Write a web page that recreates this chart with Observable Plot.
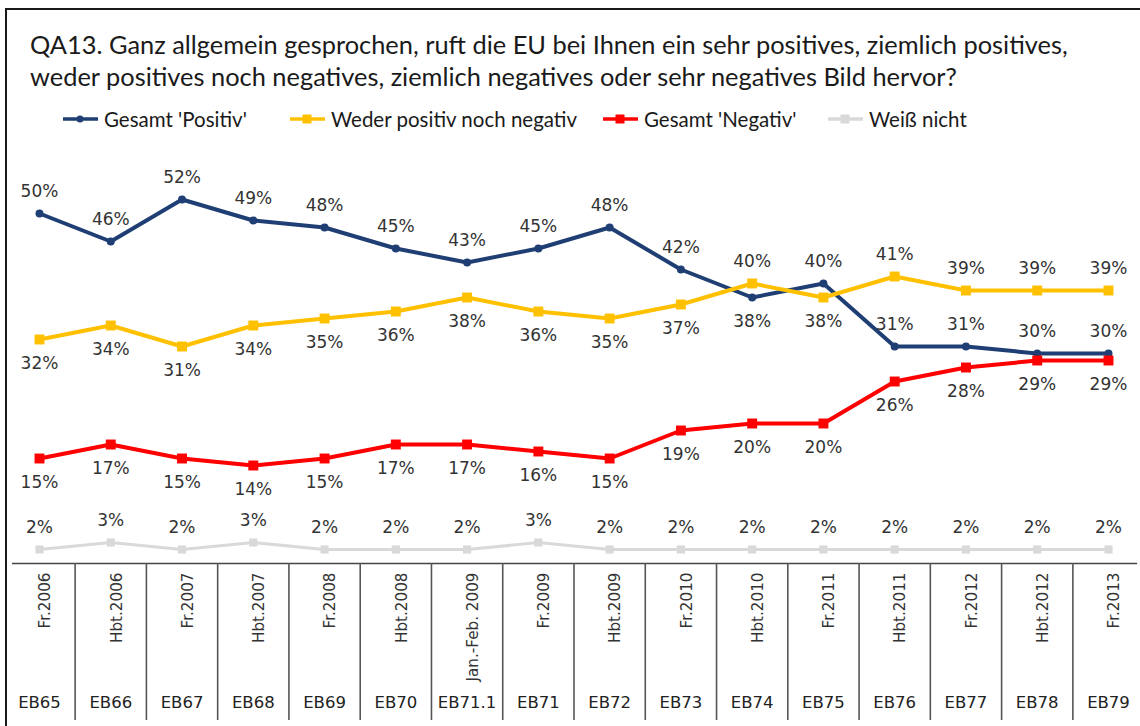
<!DOCTYPE html>
<html>
<head>
<meta charset="utf-8">
<script src="https://cdn.jsdelivr.net/npm/d3@7"></script>
<script src="https://cdn.jsdelivr.net/npm/@observablehq/plot@0.6"></script>
<style>
  html, body { margin: 0; padding: 0; background: #fff; }
  #root { position: relative; width: 1140px; height: 726px; overflow: hidden; background: #fff; }
  #frame { position: absolute; left: 5px; top: 8px; width: 1200px; height: 800px; border-left: 2px solid #1a1a1a; border-top: 2px solid #1a1a1a; }
  #title { position: absolute; left: 30px; top: 28px; font-family: Lato, "Open Sans", sans-serif; font-size: 25.4px; line-height: 32px; color: #1a1a1a; white-space: nowrap; }
  #legend { position: absolute; left: 0; top: 106px; height: 26px; font-family: Lato, sans-serif; font-size: 20.5px; color: #1a1a1a; }
  .item { position: absolute; top: 0; display: flex; align-items: center; height: 26px; white-space: nowrap; }
  .item svg { margin-right: 6px; }
  #main { position: absolute; left: 0; top: 130px; }
  #table { position: absolute; left: 0; top: 563px; }
</style>
</head>
<body>
<div id="root">
  <div id="frame"></div>
  <div id="title">QA13. Ganz allgemein gesprochen, ruft die EU bei Ihnen ein sehr positives, ziemlich positives,<br>weder positives noch negatives, ziemlich negatives oder sehr negatives Bild hervor?</div>
  <div id="legend"></div>
  <div id="main"></div>
  <div id="table"></div>
</div>
<script>
// ---- data ----
const codes = ["EB65","EB66","EB67","EB68","EB69","EB70","EB71.1","EB71","EB72","EB73","EB74","EB75","EB76","EB77","EB78","EB79"];
const periods = ["Fr.2006","Hbt.2006","Fr.2007","Hbt.2007","Fr.2008","Hbt.2008","Jan.-Feb. 2009","Fr.2009","Hbt.2009","Fr.2010","Hbt.2010","Fr.2011","Hbt.2011","Fr.2012","Hbt.2012","Fr.2013"];
const seriesNames = ["Gesamt 'Positiv'", "Weder positiv noch negativ", "Gesamt 'Negativ'", "Weiß nicht"];
const positiv = [50,46,52,49,48,45,43,45,48,42,38,40,31,31,30,30];
const weder   = [32,34,31,34,35,36,38,36,35,37,40,38,41,39,39,39];
const negativ = [15,17,15,14,15,17,17,16,15,19,20,20,26,28,29,29];
const weissNicht = [2,3,2,3,2,2,2,3,2,2,2,2,2,2,2,2];
const colors = ["#1f3f74", "#ffc000", "#ff0000", "#d9d9d9"];

// ---- build rows ----
const allValues = [positiv, weder, negativ, weissNicht];
const rows = [];
allValues.forEach((vals, s) => vals.forEach((v, i) => {
  let above;
  if (s === 0) above = !(weder[i] > v && weder[i] - v < 5);
  else if (s === 1) above = v > positiv[i];
  else if (s === 2) above = false;
  else above = true;
  rows.push({i, v, s, name: seriesNames[s], above});
}));

const sym = ["circle", "square", "square", "square"];
const rad = [4, 5.6, 5.6, 4.6];
const sw = [4, 4, 4, 3.2];

// ---- legend ----
const legend = document.getElementById("legend");
const legendLeft = [63, 290, 603, 828];
seriesNames.forEach((n, s) => {
  const it = document.createElement("div");
  it.className = "item";
  it.style.left = legendLeft[s] + "px";
  const marker = s === 0
    ? `<circle cx="17" cy="13" r="3.5" fill="${colors[s]}"/>`
    : `<rect x="12.5" y="8.5" width="9" height="9" fill="${colors[s]}"/>`;
  it.innerHTML = `<svg width="35" height="26"><line x1="0" x2="35" y1="13" y2="13" stroke="${colors[s]}" stroke-width="3.5"/>${marker}</svg><span>${n}</span>`;
  legend.appendChild(it);
});

// ---- main chart ----
const labelFont = "DejaVu Sans, Verdana, sans-serif";
const marks = [
  Plot.ruleY([0], {x1: -0.5, x2: 15.5, insetLeft: 8.6, insetRight: 6.5, stroke: "#444", strokeWidth: 1.6})
];
[0,1,2,3].forEach(s => {
  const d = rows.filter(r => r.s === s);
  marks.push(Plot.line(d, {x: "i", y: "v", stroke: colors[s], strokeWidth: sw[s]}));
  marks.push(Plot.dot(d, {x: "i", y: "v", fill: colors[s], symbol: sym[s], r: rad[s]}));
});
marks.push(Plot.text(rows.filter(r => r.above), {x: "i", y: "v", text: r => r.v + "%", dy: -22, fill: "#333", fontSize: 17, fontFamily: labelFont}));
marks.push(Plot.text(rows.filter(r => !r.above), {x: "i", y: "v", text: r => r.v + "%", dy: 24, fill: "#333", fontSize: 17, fontFamily: labelFont}));

const main = Plot.plot({
  width: 1140, height: 436,
  marginLeft: 39, marginRight: 32, marginTop: 13, marginBottom: 3,
  x: {type: "linear", domain: [0, 15], axis: null},
  y: {domain: [0, 60], axis: null},
  style: {overflow: "visible", background: "transparent"},
  marks
});
document.getElementById("main").appendChild(main);

// ---- category table below the axis ----
const idx = codes.map((c, i) => i);
const seps = idx.slice(1).map(i => i - 0.5);
const table = Plot.plot({
  width: 1140, height: 163,
  marginLeft: 39, marginRight: 32, marginTop: 0, marginBottom: 6,
  x: {type: "linear", domain: [0, 15], axis: null},
  style: {overflow: "visible", background: "transparent"},
  marks: [
    Plot.ruleX(seps, {stroke: "#555", strokeWidth: 1.6}),
    Plot.text(idx, {x: d => d, text: d => periods[d], frameAnchor: "top", rotate: -90, textAnchor: "end", dy: 9, fill: "#333", fontSize: 15.2, fontFamily: labelFont}),
    Plot.text(idx, {x: d => d, text: d => codes[d], frameAnchor: "bottom", dy: -13, fill: "#222", fontSize: 16.5, fontFamily: labelFont})
  ]
});
document.getElementById("table").appendChild(table);
</script>
</body>
</html>
